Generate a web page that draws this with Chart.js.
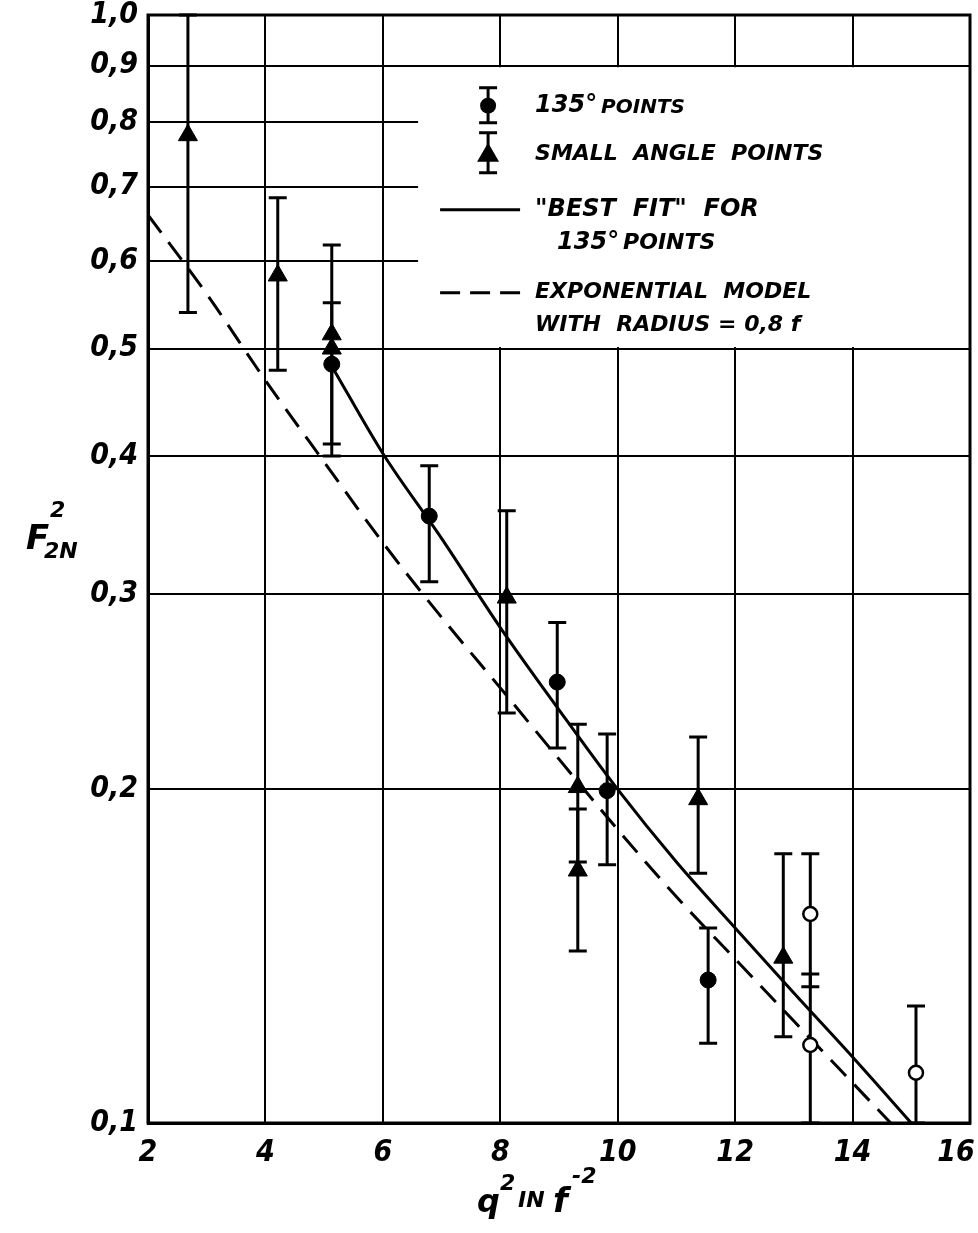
<!DOCTYPE html>
<html>
<head>
<meta charset="utf-8">
<script src="https://cdn.jsdelivr.net/npm/chart.js@4.4.1/dist/chart.umd.min.js"></script>
<style>
  html, body { margin: 0; padding: 0; background: #fff; }
</style>
</head>
<body>
<canvas id="formFactorChart" width="978" height="1233"></canvas>
<script>
const xTicks = [2, 4, 6, 8, 10, 12, 14, 16];
const yTicks = [0.1, 0.2, 0.3, 0.4, 0.5, 0.6, 0.7, 0.8, 0.9, 1.0];

// 135 deg points (filled circles)
const x135 = [5.13, 6.79, 8.97, 9.82, 11.54];
const y135 = [0.484, 0.353, 0.250, 0.1995, 0.1346];
const lo135 = [0.41, 0.308, 0.218, 0.171, 0.118];
const hi135 = [0.55, 0.392, 0.283, 0.2244, 0.150];

// small angle points (triangles)
const xSmall = [2.68, 4.21, 5.13, 5.13, 8.11, 9.32, 9.32, 11.37, 12.82];
const ySmall = [0.779, 0.582, 0.515, 0.500, 0.298, 0.201, 0.169, 0.196, 0.141];
const loSmall = [0.539, 0.478, 0.40, null, 0.2345, 0.172, 0.143, 0.168, 0.1196];
const hiSmall = [1.0, 0.684, 0.62, null, 0.357, 0.229, 0.192, 0.223, 0.175];

// open circles
const xOpen = [13.28, 13.28, 15.08];
const yOpen = [0.1544, 0.1176, 0.111];
const loOpen = [0.1327, 0.1, 0.1];
const hiOpen = [0.175, 0.1363, 0.1275];

// "best fit" for 135 deg points
const xFit = [5.15, 6, 7, 8, 9, 10, 11, 12, 13, 14, 15];
const yFit = [0.48, 0.402, 0.337, 0.28, 0.236, 0.2, 0.172, 0.150, 0.131, 0.1147, 0.1];

// exponential model, radius = 0.8 f
const xExp = [2, 3, 4, 5, 6, 7, 8, 9, 10, 11, 12, 13, 14, 14.65];
const yExp = [0.66, 0.56, 0.468, 0.395, 0.334, 0.286, 0.247, 0.213, 0.184, 0.160, 0.1406, 0.1236, 0.1087, 0.1];

const toPoints = (xs, ys) => xs.map((x, i) => ({ x: x, y: ys[i] }));

const tickFont = { family: "'DejaVu Sans Condensed', 'DejaVu Sans'", size: 30, style: 'italic', weight: 'bold' };
const textFont = (size) => 'italic bold ' + size + 'px "DejaVu Sans"';

const paperPlugin = {
    id: 'paper',
    beforeDatasetsDraw(chart) {
        const { ctx, chartArea, scales: { x, y } } = chart;
        ctx.save();
        // legend box hides the grid
        const L = x.getPixelForValue(6.6);
        const T = y.getPixelForValue(0.9);
        const B = y.getPixelForValue(0.5);
        ctx.fillStyle = '#fff';
        ctx.fillRect(L, T + 1.5, chartArea.right - L, B - T - 3);
        // frame
        ctx.strokeStyle = '#000';
        ctx.lineWidth = 3;
        ctx.strokeRect(chartArea.left, chartArea.top, chartArea.width, chartArea.height);
        // error bars
        ctx.lineWidth = 3;
        chart.data.datasets.forEach(ds => {
            if (!ds.errLo) return;
            ds.data.forEach((p, i) => {
                const lo = ds.errLo[i], hi = ds.errHi[i];
                if (lo == null || hi == null) return;
                const px = x.getPixelForValue(p.x);
                const pLo = y.getPixelForValue(lo);
                const pHi = y.getPixelForValue(hi);
                ctx.beginPath();
                ctx.moveTo(px, pLo); ctx.lineTo(px, pHi);
                ctx.moveTo(px - 9, pLo); ctx.lineTo(px + 9, pLo);
                ctx.moveTo(px - 9, pHi); ctx.lineTo(px + 9, pHi);
                ctx.stroke();
            });
        });
        ctx.restore();
    },
    afterDraw(chart) {
        const { ctx, scales: { x, y } } = chart;
        const L = x.getPixelForValue(6.6);
        const T = y.getPixelForValue(0.9);
        ctx.save();
        ctx.fillStyle = '#000';
        ctx.strokeStyle = '#000';
        ctx.lineWidth = 3;
        const sx = L + 70;

        // circle symbol
        ctx.beginPath();
        ctx.moveTo(sx, T + 22); ctx.lineTo(sx, T + 57);
        ctx.moveTo(sx - 9, T + 22); ctx.lineTo(sx + 9, T + 22);
        ctx.moveTo(sx - 9, T + 57); ctx.lineTo(sx + 9, T + 57);
        ctx.stroke();
        ctx.beginPath(); ctx.arc(sx, T + 40, 8, 0, Math.PI * 2); ctx.fill();

        // triangle symbol
        ctx.beginPath();
        ctx.moveTo(sx, T + 67); ctx.lineTo(sx, T + 107);
        ctx.moveTo(sx - 9, T + 67); ctx.lineTo(sx + 9, T + 67);
        ctx.moveTo(sx - 9, T + 107); ctx.lineTo(sx + 9, T + 107);
        ctx.stroke();
        ctx.beginPath();
        ctx.moveTo(sx, T + 77); ctx.lineTo(sx + 11, T + 96); ctx.lineTo(sx - 11, T + 96);
        ctx.closePath(); ctx.fill();

        // solid line
        ctx.beginPath(); ctx.moveTo(L + 22, T + 144); ctx.lineTo(L + 102, T + 144); ctx.stroke();
        // dashed line
        ctx.setLineDash([20, 10]);
        ctx.beginPath(); ctx.moveTo(L + 22, T + 227); ctx.lineTo(L + 102, T + 227); ctx.stroke();
        ctx.setLineDash([]);

        ctx.textBaseline = 'middle';
        ctx.textAlign = 'left';
        const tx = L + 117;
        ctx.font = textFont(24);
        ctx.fillText('135°', tx, T + 40);
        ctx.font = textFont(20);
        ctx.fillText('POINTS', tx + 66, T + 42);
        ctx.font = textFont(22);
        ctx.fillText('SMALL  ANGLE  POINTS', tx, T + 89);
        ctx.font = textFont(24);
        ctx.fillText('"BEST  FIT"  FOR', tx, T + 144);
        ctx.fillText('135°', tx + 22, T + 177);
        ctx.font = textFont(22);
        ctx.fillText('POINTS', tx + 88, T + 178);
        ctx.fillText('EXPONENTIAL  MODEL', tx, T + 227);
        ctx.fillText('WITH  RADIUS = 0,8 f', tx, T + 260);

        // y axis title
        ctx.textBaseline = 'alphabetic';
        ctx.font = textFont(34);
        ctx.fillText('F', 26, 549);
        ctx.font = textFont(22);
        ctx.fillText('2', 50, 517);
        ctx.fillText('2N', 44, 558);

        // x axis title
        ctx.font = textFont(32);
        ctx.fillText('q', 477, 1212);
        ctx.font = textFont(22);
        ctx.fillText('2', 500, 1190);
        ctx.fillText('IN', 518, 1207);
        ctx.font = textFont(34);
        ctx.fillText('f', 553, 1212);
        ctx.font = textFont(22);
        ctx.fillText('-2', 572, 1183);
        ctx.restore();
    }
};

new Chart(document.getElementById('formFactorChart'), {
    type: 'scatter',
    data: {
        datasets: [{
            label: '135° points',
            data: toPoints(x135, y135),
            errLo: lo135,
            errHi: hi135,
            pointStyle: 'circle',
            pointRadius: 8,
            backgroundColor: '#000',
            borderColor: '#000'
        }, {
            label: 'Small angle points',
            data: toPoints(xSmall, ySmall),
            errLo: loSmall,
            errHi: hiSmall,
            pointStyle: 'triangle',
            pointRadius: 11,
            backgroundColor: '#000',
            borderColor: '#000'
        }, {
            label: 'Open points',
            data: toPoints(xOpen, yOpen),
            errLo: loOpen,
            errHi: hiOpen,
            pointStyle: 'circle',
            pointRadius: 7,
            pointBorderWidth: 2.5,
            backgroundColor: '#fff',
            borderColor: '#000'
        }, {
            label: '"Best fit" for 135° points',
            data: toPoints(xFit, yFit),
            showLine: true,
            pointRadius: 0,
            borderColor: '#000',
            borderWidth: 3,
            cubicInterpolationMode: 'monotone'
        }, {
            label: 'Exponential model with radius = 0,8 f',
            data: toPoints(xExp, yExp),
            showLine: true,
            pointRadius: 0,
            borderColor: '#000',
            borderWidth: 3,
            borderDash: [22, 12],
            cubicInterpolationMode: 'monotone'
        }]
    },
    options: {
        responsive: false,
        devicePixelRatio: 1,
        animation: false,
        events: [],
        layout: { autoPadding: false, padding: { top: 15, right: 8, left: 0, bottom: 0 } },
        plugins: { legend: { display: false }, tooltip: { enabled: false } },
        scales: {
            x: {
                type: 'linear',
                min: 2,
                max: 16,
                afterBuildTicks: s => { s.ticks = xTicks.map(v => ({ value: v })); },
                afterFit: s => { s.height = 110; s.paddingLeft = 0; s.paddingRight = 0; },
                grid: { color: '#000', lineWidth: 2, drawTicks: false },
                border: { color: '#000', width: 3 },
                ticks: {
                    color: '#000',
                    font: tickFont,
                    padding: 12,
                    maxRotation: 0,
                    autoSkip: false,
                    // last label sits left of the frame edge, as on the paper
                    callback: v => v === 16 ? '16   ' : String(v)
                }
            },
            y: {
                type: 'logarithmic',
                min: 0.1,
                max: 1.0,
                afterBuildTicks: s => { s.ticks = yTicks.map(v => ({ value: v })); },
                afterFit: s => { s.width = 148; s.paddingTop = 0; s.paddingBottom = 0; },
                grid: { color: '#000', lineWidth: 2, drawTicks: false },
                border: { color: '#000', width: 3 },
                ticks: {
                    color: '#000',
                    font: tickFont,
                    padding: 10,
                    autoSkip: false,
                    callback: v => Number(v).toFixed(1).replace('.', ',')
                }
            }
        }
    },
    plugins: [paperPlugin]
});
</script>
</body>
</html>
